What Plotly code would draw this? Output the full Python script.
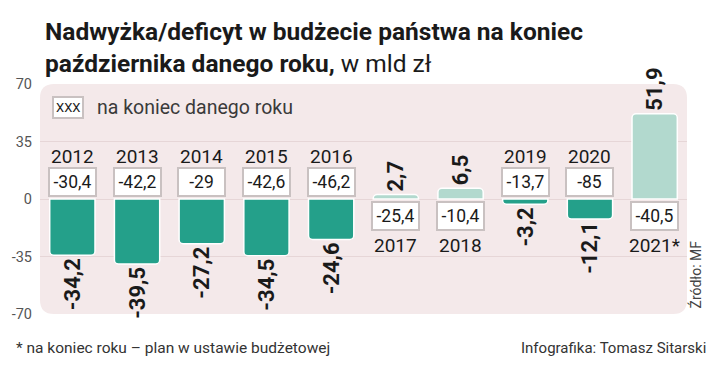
import plotly.graph_objects as go

# ---- data ----
years = ["2012", "2013", "2014", "2015", "2016", "2017", "2018", "2019", "2020", "2021*"]
october_balance = [-34.2, -39.5, -27.2, -34.5, -24.6, 2.7, 6.5, -3.2, -12.1, 51.9]
year_end_balance = [-30.4, -42.2, -29, -42.6, -46.2, -25.4, -10.4, -13.7, -85, -40.5]
y_ticks = [-70, -35, 0, 35, 70]


def fmt(v):
    s = ("%g" % v)
    return s.replace(".", ",")


DARK = "#24a08a"
LIGHT = "#b2d9ce"
COND = "Roboto, sans-serif"
REG = "Roboto, Noto Sans, sans-serif"

bar_colors = [DARK if v < 0 else LIGHT for v in october_balance]

fig = go.Figure()
fig.add_trace(go.Bar(
    x=years,
    y=october_balance,
    marker=dict(color=bar_colors, line=dict(color="white", width=1.5), cornerradius=4),
    text=[fmt(v) for v in october_balance],
    textposition="outside",
    textangle=-90,
    constraintext="none",
    outsidetextfont=dict(family=COND, size=22, color="#1a1a1a", weight="bold"),
    cliponaxis=False,
    hoverinfo="skip",
))

annotations = []
for i, (yr, oct_v, end_v) in enumerate(zip(years, october_balance, year_end_balance)):
    neg = oct_v < 0
    # year-end value box (x given as category index)
    annotations.append(dict(
        x=i, y=0, xref="x", yref="y",
        text=fmt(end_v),
        showarrow=False,
        font=dict(family=COND, size=17.5, color="#1a1a1a"),
        bgcolor="white", bordercolor="#c9c1c1", borderwidth=2, borderpad=2,
        width=41, height=22,
        yanchor="bottom" if neg else "top",
        yshift=2 if neg else -2,
    ))
    # year label
    annotations.append(dict(
        x=i, y=0, xref="x", yref="y",
        text=yr,
        showarrow=False,
        font=dict(family=REG, size=19, color="#1a1a1a"),
        yanchor="bottom" if neg else "top",
        yshift=29 if neg else -33,
    ))

# title
annotations.append(dict(
    x=0.004, y=1.30, xref="paper", yref="paper", xanchor="left", yanchor="top",
    align="left", showarrow=False,
    text="<b>Nadwyżka/deficyt w budżecie państwa na koniec<br>października danego roku,</b> w mld zł",
    font=dict(family=COND, size=24.5, color="#1a1a1a"),
))
# legend
annotations.append(dict(
    x=0.019, y=0.896, xref="paper", yref="paper", xanchor="left", yanchor="middle",
    showarrow=False, text="XXX",
    font=dict(family=COND, size=13, color="#1a1a1a"),
    bgcolor="white", bordercolor="#c9c1c1", borderwidth=2, borderpad=2,
))
annotations.append(dict(
    x=0.085, y=0.896, xref="paper", yref="paper", xanchor="left", yanchor="middle",
    showarrow=False, text="na koniec danego roku",
    font=dict(family=REG, size=19.5, color="#3a3a3a"),
))
# source
annotations.append(dict(
    x=1.0, y=0.0, xref="paper", yref="paper", xanchor="left", yanchor="bottom",
    xshift=-3, yshift=3, showarrow=False, textangle=-90, text="Źródło: MF",
    font=dict(family=REG, size=14, color="#444444"),
))
# footer
annotations.append(dict(
    x=-0.040, y=-0.148, xref="paper", yref="paper", xanchor="left", yanchor="middle",
    showarrow=False, text="* na koniec roku – plan w ustawie budżetowej",
    font=dict(family=REG, size=15.5, color="#333333"),
))
annotations.append(dict(
    x=1.0325, y=-0.148, xref="paper", yref="paper", xanchor="right", yanchor="middle",
    showarrow=False, text="Infografika: Tomasz Sitarski",
    font=dict(family=REG, size=15, color="#333333"),
))

# rounded background panel
W, H = 647.0, 230.0
r = 14.0
rx, ry = r / W, r / H
path = (f"M 0,{ry} L 0,{1-ry} Q 0,1 {rx},1 L {1-rx},1 Q 1,1 1,{1-ry} "
        f"L 1,{ry} Q 1,0 {1-rx},0 L {rx},0 Q 0,0 0,{ry} Z")

fig.update_layout(
    width=720, height=375,
    margin=dict(l=40, r=33, t=84, b=61),
    paper_bgcolor="white",
    plot_bgcolor="rgba(0,0,0,0)",
    showlegend=False,
    bargap=0.3,
    shapes=[dict(type="path", xref="paper", yref="paper", path=path,
                 fillcolor="#f4e9ea", line=dict(width=0), layer="below")],
    annotations=annotations,
    xaxis=dict(type="category", range=[-0.5, len(years) - 0.5], showticklabels=False,
               showgrid=False, zeroline=False, ticks=""),
    yaxis=dict(range=[-70, 70], tickvals=y_ticks, ticktext=[str(t) for t in y_ticks],
               showgrid=True, gridcolor="#e6d6d7", gridwidth=1, zeroline=False,
               ticklabelstandoff=7,
               tickfont=dict(family=REG, size=14.5, color="#555555"), ticks=""),
)

fig.write_html("out.html",
               config={"displayModeBar": False, "staticPlot": True},
               post_script="document.body.style.margin='0';document.body.style.overflow='hidden';")
